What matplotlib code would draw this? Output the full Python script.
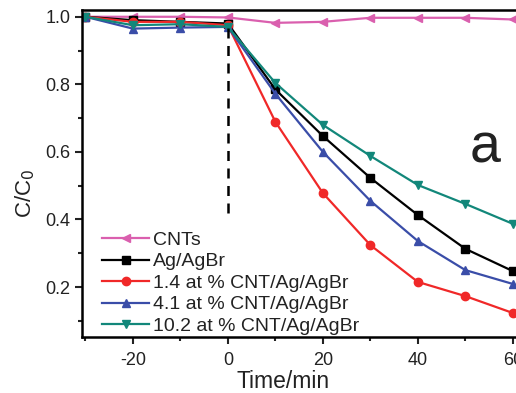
import numpy as np
import matplotlib
matplotlib.use("Agg")
import matplotlib.pyplot as plt
from matplotlib.ticker import MultipleLocator

plt.rcParams['font.family'] = ['Liberation Sans', 'DejaVu Sans']
plt.rcParams['axes.unicode_minus'] = False

# time points (min) and C/C0 values
time = [-30, -20, -10, 0, 10, 20, 30, 40, 50, 60]
cnts = [1.0, 1.0, 1.0, 0.998, 0.982, 0.985, 0.997, 0.997, 0.997, 0.992]
ag_agbr = [1.0, 0.99, 0.985, 0.98, 0.785, 0.647, 0.523, 0.413, 0.313, 0.247]
cnt14 = [1.0, 0.985, 0.985, 0.975, 0.689, 0.478, 0.324, 0.215, 0.173, 0.123]
cnt41 = [1.0, 0.965, 0.968, 0.97, 0.772, 0.60, 0.455, 0.336, 0.25, 0.209]
cnt102 = [1.0, 0.975, 0.978, 0.97, 0.804, 0.68, 0.588, 0.502, 0.446, 0.387]

labels = ['CNTs', 'Ag/AgBr', '1.4 at % CNT/Ag/AgBr',
          '4.1 at % CNT/Ag/AgBr', '10.2 at % CNT/Ag/AgBr']
series = [cnts, ag_agbr, cnt14, cnt41, cnt102]
colors = ['#DA5FAE', '#000000', '#F02828', '#3A4DA8', '#12877A']
markers = ['<', 's', 'o', '^', 'v']

fig = plt.figure(figsize=(5.16, 3.93), dpi=100)
ax = fig.add_axes([0.159, 0.1425, 0.881, 0.832])

for y, lab, c, m in zip(series, labels, colors, markers):
    ax.plot(time, y, color=c, marker=m, markersize=6, linewidth=1.6, label=lab)

# dark/light boundary
ax.plot([0, 0], [0.42, 0.99], color='black', linestyle=(0, (4, 3)), linewidth=1.8)

ax.set_xlim(-30.7, 65)
ax.set_ylim(0.052, 1.02)
ax.xaxis.set_major_locator(MultipleLocator(20))
ax.xaxis.set_minor_locator(MultipleLocator(10))
ax.yaxis.set_major_locator(MultipleLocator(0.2))
ax.yaxis.set_minor_locator(MultipleLocator(0.1))
ax.tick_params(which='both', direction='out', width=1.5, labelsize=13, colors='#222222')
ax.tick_params(which='major', length=5)
ax.tick_params(which='minor', length=3)
ax.tick_params(axis='x', pad=6)
for s in ax.spines.values():
    s.set_linewidth(1.8)

ax.set_xlabel('Time/min', fontsize=16.5, color='#222222')
ax.xaxis.set_label_coords(0.442, -0.1)
ax.set_ylabel('C/C$_0$', fontsize=16, color='#222222')
ax.yaxis.set_label_coords(-0.1, 0.44)

ax.text(0.886, 0.578, 'a', transform=ax.transAxes, fontsize=40, color='#222222',
        ha='center', va='center')

ax.legend(loc='upper left', bbox_to_anchor=(0.015, 0.365), frameon=False, fontsize=14,
          handlelength=2.4, handletextpad=0.2, labelspacing=0.2, borderaxespad=0.3,
          labelcolor='#222222')

fig.savefig('out.png', dpi=100)
